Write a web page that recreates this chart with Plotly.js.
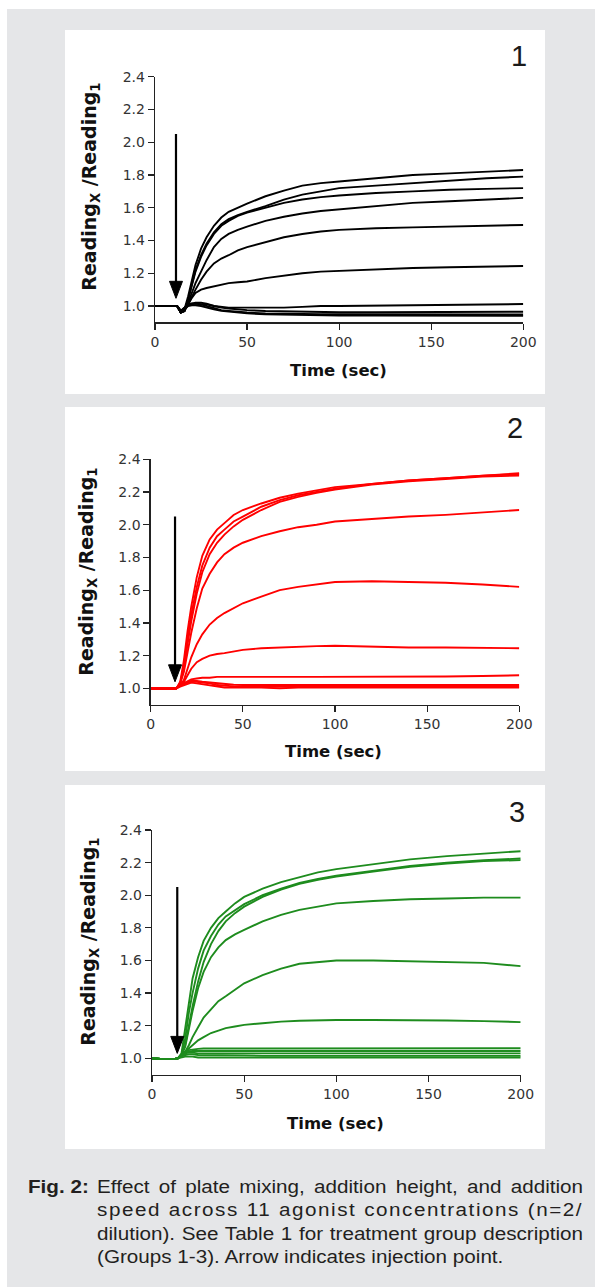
<!DOCTYPE html>
<html>
<head>
<meta charset="utf-8">
<script src="https://cdn.plot.ly/plotly-3.0.1.min.js"></script>
<style>
  html, body { margin: 0; padding: 0; background: #ffffff; }
  #wrap { position: relative; width: 595px; height: 1287px; overflow: hidden; }
  #chart { position: absolute; left: 0; top: 0; width: 595px; height: 1287px; }
  #caption { position: absolute; left: 28px; top: 1176px; width: 480px;
    transform: scaleX(1.18); transform-origin: 0 0;
    font-family: "Liberation Sans", Arial, sans-serif; font-size: 17.5px; line-height: 23.3px; color: #231f20; }
  #caption .ln { position: relative; margin-left: 58.5px; width: 411.9px; white-space: nowrap; }
  #caption .j { text-align: justify; text-align-last: justify; white-space: normal; }
  #caption .fig { position: absolute; left: -58.5px; top: 0; font-weight: bold; }
</style>
</head>
<body>
<div id="wrap">
  <div id="chart"></div>
  <div id="caption">
    <div class="ln j"><span class="fig">Fig. 2:</span>Effect of plate mixing, addition height, and addition</div>
    <div class="ln j" style="letter-spacing:1.3px">speed across 11 agonist concentrations (n=2/</div>
    <div class="ln j">dilution). See Table 1 for treatment group description</div>
    <div class="ln">(Groups 1-3). Arrow indicates injection point.</div>
  </div>
</div>
<script>
// ---------------- DATA ----------------
const time = [0, 6, 12, 14, 16, 18, 20, 22, 25, 28, 32, 36, 40, 45, 50, 60, 70, 80, 90, 100, 120, 140, 160, 180, 200];

const xTicks = [0, 50, 100, 150, 200];
const yTicks = [1.0, 1.2, 1.4, 1.6, 1.8, 2.0, 2.2, 2.4];
const yTickText = ["1.0", "1.2", "1.4", "1.6", "1.8", "2.0", "2.2", "2.4"];
const panelLabels = ["1", "2", "3"];
const injectionTime = [11.4, 13.2, 13.7];
const arrowTop = [2.05, 2.05, 2.05];
const arrowTip = [1.047, 1.04, 1.03];

// Group 1 (black)
const p1_a = [1.00,1.00,1.00,0.97,0.98,1.06,1.16,1.25,1.35,1.42,1.49,1.54,1.575,1.60,1.625,1.67,1.705,1.735,1.75,1.76,1.78,1.80,1.81,1.82,1.83];
const p1_b = [1.00,1.00,1.00,0.96,0.97,1.04,1.13,1.22,1.31,1.38,1.45,1.50,1.53,1.555,1.575,1.61,1.65,1.68,1.70,1.72,1.735,1.75,1.765,1.78,1.79];
const p1_c = [1.00,1.00,1.00,0.96,0.97,1.04,1.13,1.21,1.30,1.37,1.44,1.49,1.52,1.55,1.57,1.60,1.63,1.65,1.665,1.675,1.69,1.70,1.71,1.715,1.72];
const p1_d = [1.00,1.00,1.00,0.96,0.97,1.02,1.08,1.14,1.21,1.28,1.36,1.41,1.44,1.465,1.485,1.52,1.545,1.565,1.58,1.59,1.61,1.63,1.64,1.65,1.66];
const p1_e = [1.00,1.00,1.00,0.96,0.97,1.01,1.06,1.10,1.16,1.21,1.26,1.29,1.31,1.34,1.36,1.39,1.42,1.44,1.455,1.465,1.475,1.48,1.485,1.49,1.495];
const p1_f = [1.00,1.00,1.00,0.96,0.98,1.01,1.05,1.08,1.10,1.11,1.12,1.13,1.14,1.145,1.15,1.17,1.185,1.20,1.21,1.215,1.225,1.232,1.237,1.24,1.244];
const p1_g = [1.00,1.00,1.00,0.97,0.99,1.01,1.015,1.015,1.01,1.01,1.00,0.995,0.99,0.99,0.99,0.99,0.99,0.995,1.00,1.00,1.003,1.005,1.006,1.008,1.012];
const p1_h = [1.00,1.00,1.00,0.97,0.99,1.01,1.015,1.02,1.02,1.015,1.00,0.99,0.985,0.98,0.975,0.97,0.968,0.965,0.963,0.962,0.962,0.963,0.963,0.964,0.965];
const p1_i = [1.00,1.00,1.00,0.97,0.99,1.005,1.01,1.015,1.01,1.00,0.985,0.975,0.97,0.965,0.96,0.955,0.952,0.95,0.95,0.95,0.949,0.95,0.95,0.949,0.948];
const p1_j = [1.00,1.00,1.00,0.96,0.98,1.00,1.005,1.005,1.00,0.99,0.98,0.97,0.965,0.96,0.955,0.95,0.947,0.945,0.944,0.942,0.942,0.941,0.94,0.94,0.94];

// Group 2 (red)
const p2_a = [1.00,0.995,1.00,1.00,1.04,1.17,1.35,1.50,1.68,1.81,1.91,1.97,2.01,2.06,2.09,2.13,2.165,2.19,2.21,2.23,2.25,2.27,2.285,2.30,2.31];
const p2_b = [1.00,1.00,0.995,1.00,1.03,1.14,1.30,1.45,1.62,1.75,1.86,1.93,1.97,2.02,2.05,2.11,2.15,2.18,2.20,2.22,2.25,2.27,2.285,2.30,2.315];
const p2_c = [0.995,1.00,1.00,1.00,1.03,1.12,1.27,1.41,1.58,1.71,1.82,1.89,1.94,1.99,2.03,2.09,2.14,2.17,2.195,2.215,2.245,2.265,2.28,2.295,2.30];
const p2_d = [1.00,1.00,1.00,1.00,1.03,1.10,1.22,1.34,1.49,1.61,1.70,1.77,1.82,1.86,1.89,1.93,1.96,1.985,2.00,2.02,2.035,2.05,2.06,2.075,2.09];
const p2_e = [1.00,1.00,1.00,1.00,1.02,1.05,1.12,1.19,1.27,1.33,1.39,1.43,1.46,1.49,1.52,1.56,1.60,1.62,1.635,1.65,1.655,1.65,1.645,1.635,1.62];
const p2_f = [1.00,1.00,1.00,1.00,1.02,1.04,1.08,1.12,1.16,1.18,1.20,1.21,1.215,1.225,1.235,1.245,1.25,1.255,1.258,1.26,1.255,1.25,1.25,1.248,1.245];
const p2_g = [1.00,1.00,1.00,1.00,1.02,1.03,1.045,1.055,1.06,1.065,1.065,1.07,1.07,1.068,1.07,1.07,1.068,1.07,1.07,1.07,1.072,1.07,1.072,1.075,1.08];
const p2_h = [1.00,1.00,1.00,1.00,1.02,1.03,1.04,1.045,1.045,1.04,1.035,1.03,1.025,1.022,1.02,1.02,1.02,1.02,1.02,1.02,1.02,1.02,1.02,1.02,1.02];
const p2_i = [1.00,0.995,1.00,1.00,1.015,1.025,1.035,1.04,1.04,1.035,1.03,1.02,1.015,1.012,1.01,1.01,1.01,1.01,1.012,1.01,1.01,1.01,1.01,1.012,1.01];
const p2_j = [0.995,1.00,0.995,1.00,1.01,1.02,1.03,1.035,1.03,1.025,1.02,1.01,1.005,1.005,1.005,1.005,1.00,1.005,1.005,1.005,1.005,1.005,1.005,1.005,1.005];

// Group 3 (green)
const p3_a = [1.00,0.995,0.995,1.00,1.03,1.18,1.36,1.49,1.62,1.72,1.80,1.86,1.90,1.95,1.99,2.04,2.08,2.11,2.14,2.16,2.19,2.22,2.24,2.255,2.27];
const p3_b = [1.00,0.995,0.995,1.00,1.02,1.12,1.28,1.40,1.55,1.66,1.75,1.82,1.87,1.91,1.945,2.00,2.04,2.075,2.10,2.12,2.15,2.18,2.20,2.215,2.225];
const p3_c = [1.00,0.995,0.995,1.00,1.02,1.08,1.20,1.32,1.47,1.59,1.70,1.78,1.84,1.89,1.93,1.99,2.035,2.07,2.095,2.115,2.145,2.175,2.195,2.21,2.215];
const p3_d = [1.00,0.995,0.995,1.00,1.02,1.07,1.18,1.29,1.43,1.53,1.62,1.68,1.725,1.76,1.787,1.84,1.88,1.91,1.93,1.95,1.965,1.975,1.98,1.985,1.985];
const p3_e = [1.00,0.995,0.995,1.00,1.02,1.04,1.08,1.13,1.19,1.25,1.30,1.35,1.38,1.42,1.46,1.51,1.55,1.58,1.59,1.60,1.60,1.595,1.59,1.585,1.565];
const p3_f = [1.00,0.995,0.995,1.00,1.02,1.04,1.06,1.08,1.11,1.13,1.155,1.17,1.185,1.195,1.205,1.215,1.225,1.23,1.233,1.235,1.235,1.235,1.232,1.228,1.222];
const p3_g = [1.00,0.995,0.995,1.00,1.02,1.04,1.05,1.055,1.058,1.06,1.06,1.06,1.06,1.062,1.06,1.06,1.062,1.06,1.06,1.06,1.06,1.06,1.06,1.06,1.062];
const p3_h = [1.00,0.995,0.995,1.00,1.02,1.035,1.04,1.045,1.045,1.045,1.045,1.045,1.048,1.045,1.045,1.045,1.045,1.048,1.045,1.045,1.045,1.045,1.045,1.045,1.045];
const p3_i = [1.00,0.995,0.995,1.00,1.015,1.03,1.035,1.035,1.03,1.03,1.03,1.03,1.03,1.028,1.03,1.03,1.028,1.03,1.03,1.03,1.03,1.03,1.028,1.03,1.03];
const p3_j = [1.00,0.995,0.995,1.00,1.01,1.02,1.025,1.025,1.02,1.02,1.02,1.018,1.02,1.02,1.018,1.015,1.015,1.015,1.015,1.015,1.015,1.015,1.015,1.015,1.015];
const p3_k = [1.00,0.995,0.995,1.00,1.005,1.01,1.01,1.01,1.005,1.005,1.005,1.005,1.005,1.005,1.005,1.005,1.005,1.005,1.005,1.005,1.005,1.005,1.005,1.005,1.005];

const group1 = [p1_a, p1_b, p1_c, p1_d, p1_e, p1_f, p1_g, p1_h, p1_i, p1_j];
const group2 = [p2_a, p2_b, p2_c, p2_d, p2_e, p2_f, p2_g, p2_h, p2_i, p2_j];
const group3 = [p3_a, p3_b, p3_c, p3_d, p3_e, p3_f, p3_g, p3_h, p3_i, p3_j, p3_k];

// ---------------- LAYOUT ----------------
const W = 595, H = 1287;
const px = v => v / W;
const py = v => 1 - v / H;

// plot areas in pixels [left, right, top, bottom]
const areas = [
  [155, 523.3, 76.7, 322.4],
  [150.7, 519.3, 459.3, 704.7],
  [152, 520.7, 830, 1074.6]
];
const panels = [[65, 545, 30, 394], [65, 545, 407, 771], [65, 545, 785, 1149]];
const colors = ["#000000", "#ff0000", "#1e8c1e"];
const groups = [group1, group2, group3];
const xTitlePos = [[338, 370], [333, 751.7], [335, 1123]];
const yTitlePos = [[91, 186.7], [88, 571.7], [90, 941.7]];
const numPos = [[519, 56], [515, 428], [517, 812]];

const traces = [];
groups.forEach((g, k) => {
  const sfx = k === 0 ? "" : String(k + 1);
  g.forEach(vals => {
    traces.push({
      x: time, y: vals, type: "scatter", mode: "lines",
      xaxis: "x" + sfx, yaxis: "y" + sfx,
      line: { color: colors[k], width: 1.9 },
      hoverinfo: "skip", showlegend: false
    });
  });
});

const layout = {
  width: W, height: H,
  margin: { l: 0, r: 0, t: 0, b: 0, pad: 0 },
  paper_bgcolor: "#ffffff",
  plot_bgcolor: "rgba(0,0,0,0)",
  showlegend: false,
  shapes: [
    { type: "rect", xref: "paper", yref: "paper", x0: px(7), x1: 1, y0: 0, y1: py(9),
      fillcolor: "#e5e6e8", line: { width: 0 }, layer: "below" }
  ],
  annotations: []
};

const tickFont = { family: "DejaVu Sans, Arial, sans-serif", size: 14, color: "#333333" };
const titleFont = { family: "DejaVu Sans, Arial, sans-serif", size: 19, color: "#111111", weight: "bold" };

areas.forEach((a, k) => {
  const sfx = k === 0 ? "" : String(k + 1);
  layout["xaxis" + sfx] = {
    domain: [px(a[0]), px(a[1])], range: [0, 200], anchor: "y" + sfx,
    tickvals: xTicks, ticks: "outside", ticklen: 6, tickwidth: 1.2, tickcolor: "#222",
    showline: true, linecolor: "#222", linewidth: 1.3, showgrid: false, zeroline: false,
    tickfont: tickFont, fixedrange: true
  };
  layout["yaxis" + sfx] = {
    domain: [py(a[3]), py(a[2])], range: [0.9, 2.4], anchor: "x" + sfx,
    tickvals: yTicks, ticktext: yTickText, ticks: "outside", ticklen: 6, tickwidth: 1.2, tickcolor: "#222",
    showline: true, linecolor: "#222", linewidth: 1.3, showgrid: false, zeroline: false,
    tickfont: tickFont, fixedrange: true
  };
  const p = panels[k];
  layout.shapes.push({ type: "rect", xref: "paper", yref: "paper",
    x0: px(p[0]), x1: px(p[1]), y0: py(p[3]), y1: py(p[2]),
    fillcolor: "#ffffff", line: { width: 0 }, layer: "below" });
  // injection arrow: shaft + head
  layout.shapes.push({ type: "line", xref: "x" + sfx, yref: "y" + sfx,
    x0: injectionTime[k], x1: injectionTime[k], y0: arrowTop[k], y1: arrowTip[k] + 0.06,
    line: { color: "#000", width: 2.2 } });
  layout.shapes.push({ type: "path", xref: "x" + sfx, yref: "y" + sfx,
    xsizemode: "pixel", ysizemode: "pixel", xanchor: injectionTime[k], yanchor: arrowTip[k],
    path: "M-6.5,17L6.5,17L0,0Z", fillcolor: "#000", line: { color: "#000", width: 1 } });

  layout.annotations.push({ xref: "paper", yref: "paper", x: px(xTitlePos[k][0]), y: py(xTitlePos[k][1]),
    xanchor: "center", yanchor: "middle", showarrow: false, text: "Time (sec)",
    font: { family: "DejaVu Sans, Arial, sans-serif", size: 16.5, color: "#111", weight: "bold" } });
  layout.annotations.push({ xref: "paper", yref: "paper", x: px(yTitlePos[k][0]), y: py(yTitlePos[k][1]),
    xanchor: "center", yanchor: "middle", showarrow: false, textangle: -90,
    text: "Reading<sub>X</sub> /Reading<sub>1</sub>", font: titleFont });
  layout.annotations.push({ xref: "paper", yref: "paper", x: px(numPos[k][0]), y: py(numPos[k][1]),
    xanchor: "center", yanchor: "middle", showarrow: false, text: panelLabels[k],
    font: { family: "Liberation Sans, Arial, sans-serif", size: 29, color: "#1a1a1a" } });
});

Plotly.newPlot("chart", traces, layout, { staticPlot: true, displayModeBar: false });
</script>
</body>
</html>
